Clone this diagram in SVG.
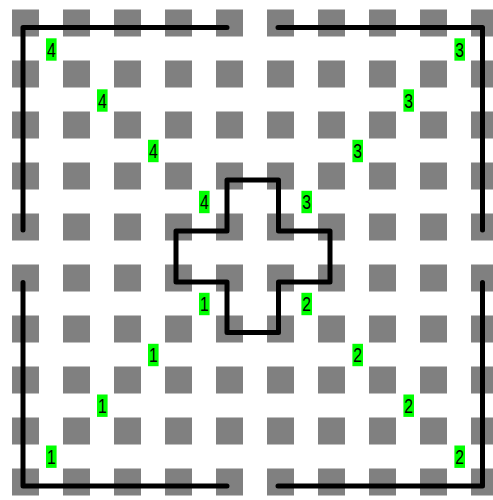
<svg xmlns="http://www.w3.org/2000/svg" width="493" height="500" viewBox="0 0 493 500">
<style>
.cell{fill:#808080}
.wall{fill:none;stroke:#000;stroke-width:5;stroke-linejoin:round;stroke-linecap:round}
.tag{fill:#00ff00}
.num{font-family:"Liberation Sans",Arial,sans-serif;font-size:21px;fill:#000;text-anchor:middle}
</style>
<defs>
<rect id="c" class="cell" width="27" height="27"/>
<g id="row">
<use href="#c" x="12"/><use href="#c" x="63"/><use href="#c" x="114"/><use href="#c" x="165"/><use href="#c" x="216"/><use href="#c" x="267"/><use href="#c" x="318"/><use href="#c" x="369"/><use href="#c" x="420"/><use href="#c" x="471"/>
</g>
<rect id="t" class="tag" x="-5.300" y="-11.200" width="10.600" height="22.400"/>
</defs>
<rect width="493" height="500" fill="#fff"/>
<g id="grid">
<use href="#row" y="9.5"/><use href="#row" y="60.5"/><use href="#row" y="111.5"/><use href="#row" y="162.5"/><use href="#row" y="213.500"/><use href="#row" y="264.500"/><use href="#row" y="315.500"/><use href="#row" y="366.500"/><use href="#row" y="417.500"/><use href="#row" y="468.500"/>
</g>
<g id="connectors">
<path class="wall" d="M23 230V27.500H227"/>
<path class="wall" d="M278 27.500H482.500V230"/>
<path class="wall" d="M23 282.500V486H227"/>
<path class="wall" d="M278 486H482.500V282.500"/>
</g>
<g id="cross"><path class="wall" d="M227 180H278.500V231H330V282H278.500V332.500H227V282H176V231H227Z"/></g>
<g id="labels">
<g id="l4a" transform="translate(51.300 49.500)"><use href="#t"/><text class="num" y="7" transform="scale(.75 1)">4</text></g>
<g id="l4b" transform="translate(102.300 100.500)"><use href="#t"/><text class="num" y="7" transform="scale(.75 1)">4</text></g>
<g id="l4c" transform="translate(153.300 151)"><use href="#t"/><text class="num" y="7" transform="scale(.75 1)">4</text></g>
<g id="l4d" transform="translate(204.300 202)"><use href="#t"/><text class="num" y="7" transform="scale(.75 1)">4</text></g>
<g id="l3a" transform="translate(459.700 49.500)"><use href="#t"/><text class="num" y="7" transform="scale(.75 1)">3</text></g>
<g id="l3b" transform="translate(408.700 100.500)"><use href="#t"/><text class="num" y="7" transform="scale(.75 1)">3</text></g>
<g id="l3c" transform="translate(357.700 151)"><use href="#t"/><text class="num" y="7" transform="scale(.75 1)">3</text></g>
<g id="l3d" transform="translate(306.700 202)"><use href="#t"/><text class="num" y="7" transform="scale(.75 1)">3</text></g>
<g id="l1a" transform="translate(204.300 304)"><use href="#t"/><text class="num" y="7" transform="scale(.75 1)">1</text></g>
<g id="l1b" transform="translate(153.300 355)"><use href="#t"/><text class="num" y="7" transform="scale(.75 1)">1</text></g>
<g id="l1c" transform="translate(102.300 405.700)"><use href="#t"/><text class="num" y="7" transform="scale(.75 1)">1</text></g>
<g id="l1d" transform="translate(51.300 456.700)"><use href="#t"/><text class="num" y="7" transform="scale(.75 1)">1</text></g>
<g id="l2a" transform="translate(306.700 304)"><use href="#t"/><text class="num" y="7" transform="scale(.75 1)">2</text></g>
<g id="l2b" transform="translate(357.700 355)"><use href="#t"/><text class="num" y="7" transform="scale(.75 1)">2</text></g>
<g id="l2c" transform="translate(408.700 405.700)"><use href="#t"/><text class="num" y="7" transform="scale(.75 1)">2</text></g>
<g id="l2d" transform="translate(459.700 456.700)"><use href="#t"/><text class="num" y="7" transform="scale(.75 1)">2</text></g>
</g>
</svg>
